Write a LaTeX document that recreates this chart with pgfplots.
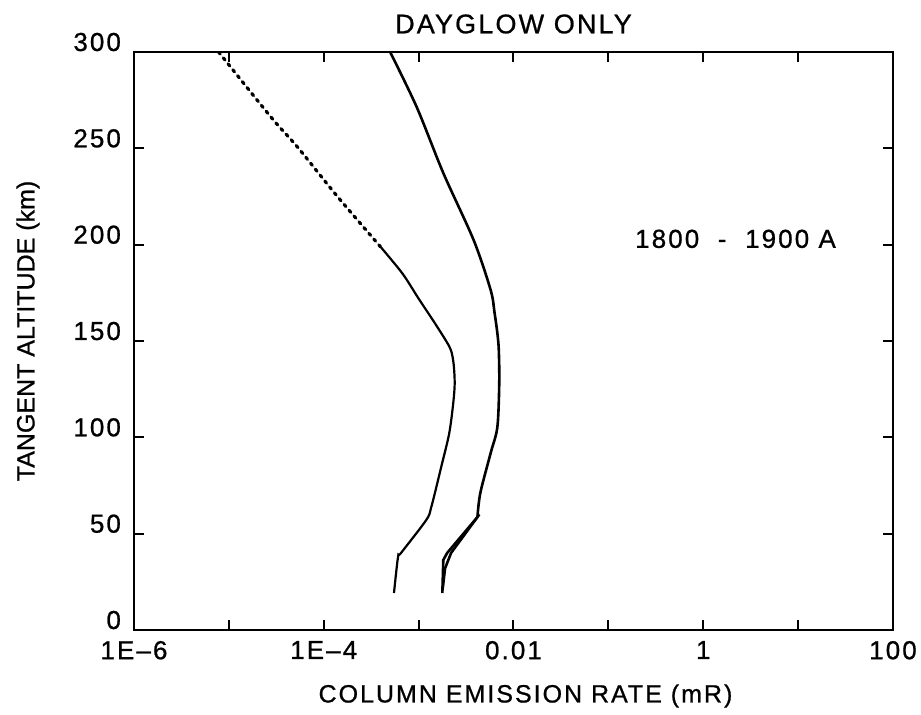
\documentclass[border=0pt]{standalone}
\usepackage{fontspec}
\setmainfont[LetterSpace=8, FakeBold=0.8]{Liberation Sans}
\newfontfamily\ylabfont[FakeBold=0.8]{Liberation Sans}
\usepackage{pgfplots}
\pgfplotsset{compat=1.18}
\begin{document}
\begin{tikzpicture}
\begin{axis}[name=ax, at={(0,0)}, anchor=south west,
  scale only axis, width=379.5pt, height=289pt,
  xmode=log, xmin=1e-6, xmax=100, ymin=0, ymax=300,
  xtick={1e-6,1e-5,1e-4,1e-3,1e-2,1e-1,1,10,100},
  xticklabels={1E--6,,1E--4,,0.01,,1,,100},
  ytick={0,50,100,150,200,250,300},
  yticklabels={0,50,100,150,200,250,300},
  xminorticks=false, yminorticks=false,
  tick align=inside, major tick length=5pt,
  tick style={line width=1pt, black},
  axis line style={line width=1.2pt},
  ticklabel style={font=\fontsize{13}{15}\selectfont},
  xticklabel style={yshift=-2pt},
  yticklabel style={anchor=base east, xshift=-3pt, yshift=0.5pt},
  title={DAYGLOW ONLY},
  title style={font=\fontsize{13.5}{16}\selectfont, at={(axis description cs:0.5,1)}, anchor=center, yshift=8pt},
  xlabel={COLUMN EMISSION RATE (mR)},
  xlabel style={font=\fontsize{12.5}{15}\selectfont, at={([xshift=6pt,yshift=-33pt]axis description cs:0.5,0)}, anchor=center},
  ylabel={\ylabfont TANGENT ALTITUDE (km)},
  ylabel style={font=\fontsize{12.5}{15}\selectfont, at={([xshift=-53pt,yshift=5pt]axis description cs:0,0.5)}, anchor=center},
]
% dashed series, upper part
\addplot[black, line width=1.6pt, line cap=round, dash pattern=on 1.3pt off 2.5pt, smooth] coordinates {
  (7.8e-6,300) (2.8e-5,266) (5.3e-5,250.6) (1.41e-4,224.7) (3.98e-4,198.8)
};
% dashed series, lower part (drawn nearly continuous)
\addplot[black, line width=1.1pt, smooth, tension=0.5] coordinates {
  (3.98e-4,198.8) (6.76e-4,185) (1.0e-3,172) (1.45e-3,160) (1.95e-3,150)
  (2.20e-3,145) (2.34e-3,138) (2.40e-3,128) (2.32e-3,118) (2.10e-3,102) (1.73e-3,84.6)
  (1.36e-3,63.8) (1.20e-3,57) (6.53e-4,40) (6.07e-4,37.9) (5.5e-4,19.2)
};
% solid series
\addplot[black, line width=1.3pt, smooth, tension=0.5] coordinates {
  (5.01e-4,300) (9.55e-4,271.4) (1.82e-3,237.2) (3.80e-3,202.4) (5.75e-3,176.4)
  (6.3e-3,165) (6.76e-3,154.1) (7.0e-3,145.3) (7.08e-3,128.2) (6.76e-3,105.3)
  (5.75e-3,91.9) (4.47e-3,71.1) (4.17e-3,58.6)
};
\addplot[black, line width=1.3pt] coordinates {
  (4.17e-3,58.6) (2.0e-3,40) (1.82e-3,36.3) (1.78e-3,19.2)
};
\addplot[black, line width=1.3pt] coordinates {
  (4.37e-3,60) (2.2e-3,40) (1.9e-3,32) (1.8e-3,22)
};
\node[font=\fontsize{13}{15}\selectfont] at (axis cs:2.19,203) {1800\ \ -\ \ 1900 A};
\end{axis}
\pgfresetboundingbox
\path (-67pt,-42.5pt) rectangle (393.5pt,315pt);
\end{tikzpicture}
\end{document}
